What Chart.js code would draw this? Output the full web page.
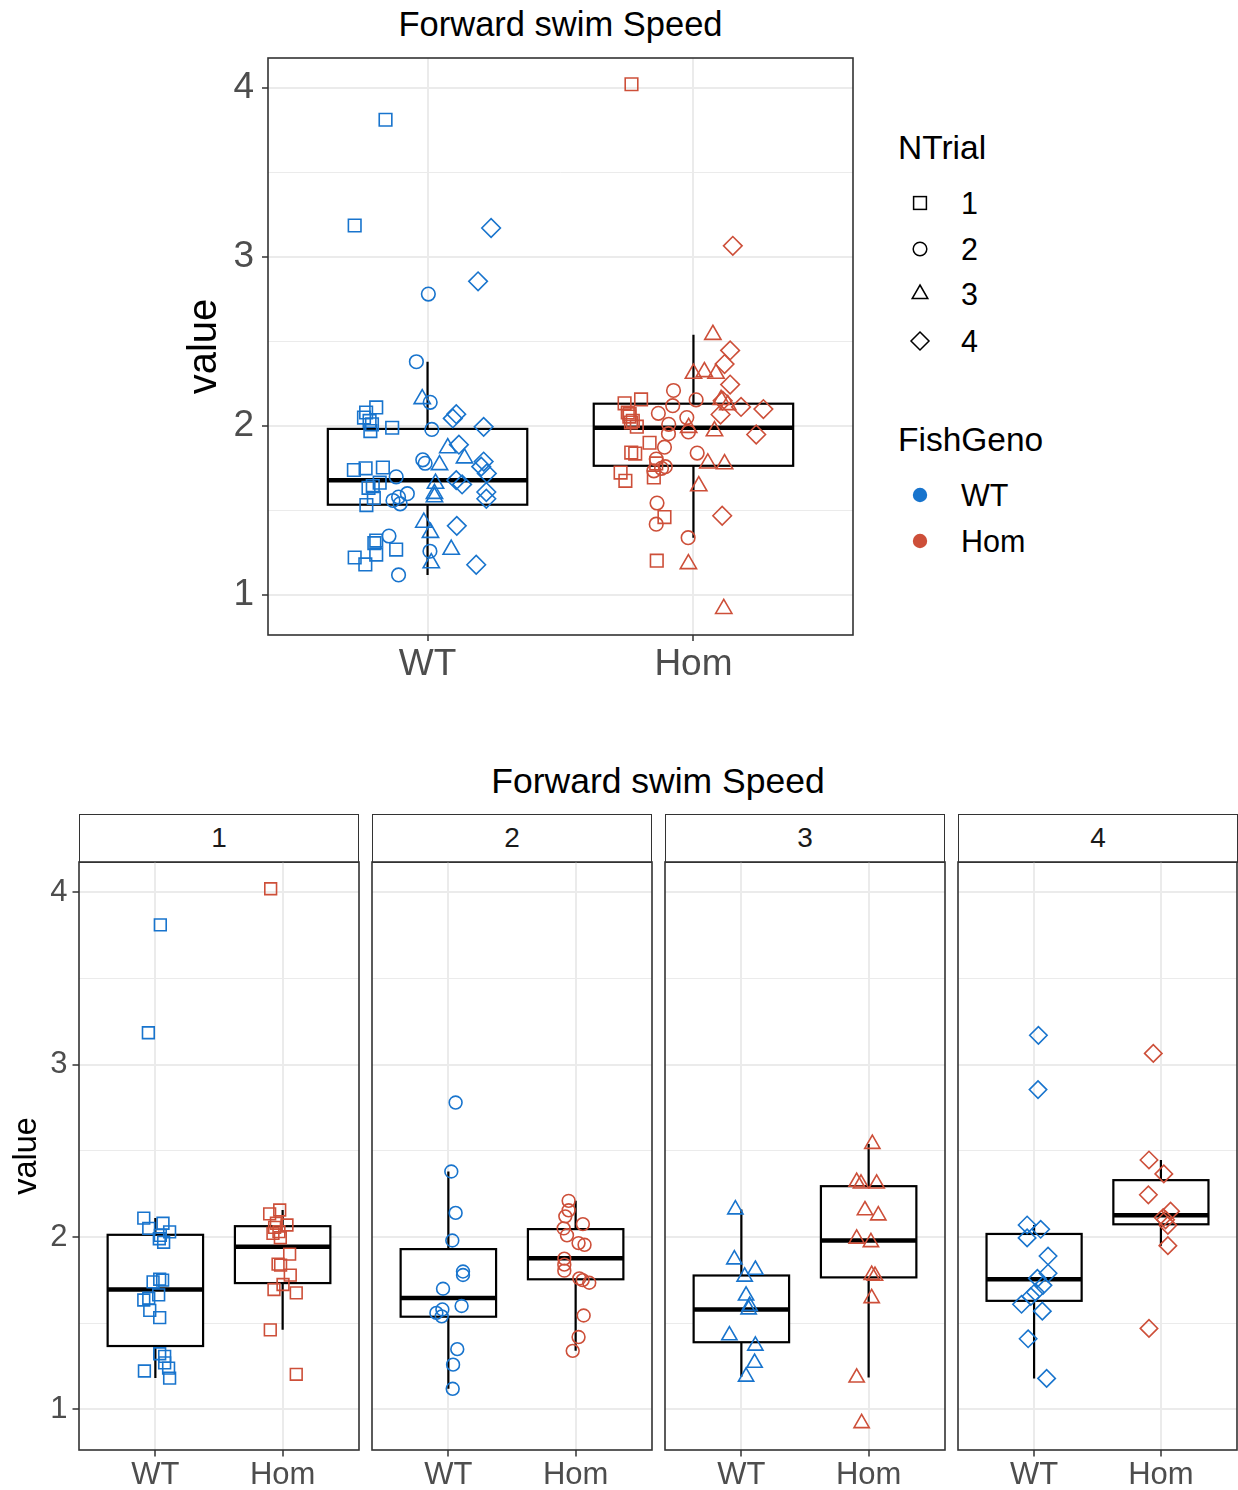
<!DOCTYPE html>
<html>
<head>
<meta charset="utf-8">
<script src="https://cdn.jsdelivr.net/npm/chart.js@4.4.1/dist/chart.umd.min.js"></script>
<style>
  body { margin: 0; background: #fff; width: 1238px; height: 1490px; position: relative; overflow: hidden;
         font-family: "Liberation Sans", Arial, Helvetica, sans-serif; }
  canvas, .abs { position: absolute; }
  .ttl { text-align: center; line-height: 40px; color: #000; white-space: nowrap; }
  .strip { box-sizing: border-box; border: 1.5px solid #333; background: #fff; text-align: center;
           font-size: 28px; line-height: 45px; color: #1a1a1a; }
  .lgTitle { font-size: 33.5px; line-height: 40px; color: #000; }
  .lgLab { font-size: 30.5px; line-height: 36px; color: #000; }
</style>
</head>
<body>

<div class="abs ttl" style="left:268px; top:4px; width:585px; font-size:34.5px;">Forward swim Speed</div>
<div class="abs ttl" style="left:79px; top:761px; width:1158px; font-size:35.5px;">Forward swim Speed</div>

<div class="abs strip" style="left:79px;  top:814px; width:280px; height:49px;">1</div>
<div class="abs strip" style="left:372px; top:814px; width:280px; height:49px;">2</div>
<div class="abs strip" style="left:665px; top:814px; width:280px; height:49px;">3</div>
<div class="abs strip" style="left:958px; top:814px; width:280px; height:49px;">4</div>

<!-- legend -->
<div class="abs lgTitle" style="left:898px; top:128px;">NTrial</div>
<svg class="abs" style="left:908px; top:191px;" width="24" height="24"><rect x="5.6" y="5.6" width="12.8" height="12.8" fill="none" stroke="#000" stroke-width="1.5"/></svg>
<svg class="abs" style="left:908px; top:237px;" width="24" height="24"><circle cx="12" cy="12" r="6.8" fill="none" stroke="#000" stroke-width="1.5"/></svg>
<svg class="abs" style="left:908px; top:282px;" width="24" height="24"><polygon points="12,3 19.8,16.5 4.2,16.5" fill="none" stroke="#000" stroke-width="1.5"/></svg>
<svg class="abs" style="left:908px; top:329px;" width="24" height="24"><polygon points="12,3 21,12 12,21 3,12" fill="none" stroke="#000" stroke-width="1.5"/></svg>
<div class="abs lgLab" style="left:961px; top:185px;">1</div>
<div class="abs lgLab" style="left:961px; top:231px;">2</div>
<div class="abs lgLab" style="left:961px; top:276px;">3</div>
<div class="abs lgLab" style="left:961px; top:323px;">4</div>

<div class="abs lgTitle" style="left:898px; top:420px;">FishGeno</div>
<svg class="abs" style="left:908px; top:483px;" width="24" height="24"><circle cx="12" cy="12" r="7.2" fill="#1874CD"/></svg>
<svg class="abs" style="left:908px; top:529px;" width="24" height="24"><circle cx="12" cy="12" r="7.2" fill="#CD4F39"/></svg>
<div class="abs lgLab" style="left:961px; top:477px;">WT</div>
<div class="abs lgLab" style="left:961px; top:523px;">Hom</div>

<canvas id="allChart" width="880" height="700" style="left:0; top:0;"></canvas>
<canvas id="facet1" width="366" height="630" style="left:0; top:860px;"></canvas>
<canvas id="facet2" width="294" height="630" style="left:365px; top:860px;"></canvas>
<canvas id="facet3" width="294" height="630" style="left:658px; top:860px;"></canvas>
<canvas id="facet4" width="293" height="630" style="left:951px; top:860px;"></canvas>

<script>
const GENO = ["WT", "Hom"];
const TRIALS = ["1", "2", "3", "4"];
const GENO_COLORS = ["#1874CD", "#CD4F39"];
const TRIAL_SHAPES = ["rect", "circle", "triangle", "rectRot"];
const FONT = '"Liberation Sans", Arial, Helvetica, sans-serif';

/* ---- values ---- */
const wt1 = [3.81, 3.185, 2.11, 2.08, 2.05, 2.03, 2.01, 1.99, 1.97, 1.755, 1.75, 1.74, 1.665, 1.645, 1.635, 1.575, 1.533, 1.323, 1.308, 1.27, 1.24, 1.223, 1.182];
const wt2 = [2.78, 2.38, 2.14, 1.98, 1.80, 1.78, 1.70, 1.60, 1.58, 1.56, 1.54, 1.35, 1.26, 1.12];
const wt3 = [2.16, 1.87, 1.81, 1.77, 1.66, 1.60, 1.58, 1.43, 1.37, 1.27, 1.19];
const wt4 = [3.17, 2.855, 2.07, 2.045, 1.995, 1.89, 1.79, 1.76, 1.72, 1.68, 1.655, 1.61, 1.57, 1.41, 1.18];
const hom1 = [4.02, 2.157, 2.134, 2.08, 2.07, 2.056, 2.031, 2.021, 1.996, 1.901, 1.843, 1.837, 1.779, 1.725, 1.696, 1.676, 1.462, 1.204];
const hom2 = [2.21, 2.155, 2.12, 2.075, 2.05, 2.01, 1.965, 1.955, 1.875, 1.84, 1.805, 1.76, 1.75, 1.735, 1.545, 1.42, 1.34];
const hom3 = [2.54, 2.32, 2.31, 2.31, 2.155, 2.125, 1.99, 1.97, 1.78, 1.775, 1.645, 1.185, 0.92];
const hom4 = [3.065, 2.447, 2.366, 2.245, 2.15, 2.113, 2.10, 2.068, 1.95, 1.47];

/* ---- jitter offsets in the faceted plot (x units) ---- */
const wt1Jit = [0.039, -0.055, -0.091, 0.060, -0.052, 0.112, 0.039, 0.031, 0.065, 0.034, 0.057, -0.018, 0.026, -0.052, -0.091, -0.044, 0.034, 0.034, 0.073, 0.073, 0.104, -0.086, 0.112];
const wt2Jit = [0.057, 0.023, 0.057, 0.031, 0.115, 0.115, -0.042, 0.104, -0.047, -0.094, -0.052, 0.070, 0.037, 0.034];
const wt3Jit = [-0.047, -0.055, 0.110, 0.026, 0.037, 0.065, 0.057, -0.094, 0.110, 0.104, 0.037];
const wt4Jit = [0.034, 0.031, -0.055, 0.052, -0.055, 0.110, 0.110, 0.026, 0.070, 0.010, -0.026, -0.099, 0.065, -0.047, 0.099];
const hom1Jit = [-0.094, -0.023, -0.102, -0.049, 0.034, -0.063, -0.029, -0.076, -0.018, 0.055, -0.036, -0.016, 0.060, 0.003, -0.068, 0.107, -0.097, 0.107];
const hom2Jit = [-0.055, -0.055, -0.081, 0.057, -0.094, -0.068, 0.023, 0.070, -0.089, -0.089, -0.089, 0.029, 0.055, 0.107, 0.063, 0.023, -0.023];
const hom3Jit = [0.029, -0.094, -0.060, 0.063, -0.029, 0.076, -0.094, 0.018, 0.024, 0.050, 0.024, -0.094, -0.055];
const hom4Jit = [-0.060, -0.094, 0.023, -0.099, 0.076, 0.018, 0.037, 0.055, 0.055, -0.094];

/* ---- jitter+dodge offsets in the combined plot (x units) ---- */
const wt1JitAll = [-0.158, -0.274, -0.193, -0.231, -0.239, -0.218, -0.209, -0.133, -0.215, -0.168, -0.233, -0.277, -0.180, -0.206, -0.222, -0.202, -0.230, -0.193, -0.200, -0.118, -0.193, -0.274, -0.234];
const wt2JitAll = [0.003, -0.042, 0.010, 0.016, -0.018, -0.009, -0.118, -0.076, -0.109, -0.130, -0.103, -0.145, 0.009, -0.109];
const wt3JitAll = [-0.020, 0.076, 0.139, 0.045, 0.030, 0.026, 0.026, -0.014, 0.011, 0.089, 0.014];
const wt4JitAll = [0.239, 0.190, 0.108, 0.095, 0.211, 0.118, 0.211, 0.202, 0.223, 0.108, 0.130, 0.221, 0.221, 0.110, 0.183];
const hom1JitAll = [-0.233, -0.197, -0.259, -0.247, -0.240, -0.241, -0.228, -0.235, -0.213, -0.165, -0.234, -0.219, -0.140, -0.274, -0.149, -0.256, -0.109, -0.138];
const hom2JitAll = [-0.075, 0.010, -0.078, -0.132, -0.025, -0.093, -0.019, -0.094, -0.109, 0.014, -0.140, -0.106, -0.120, -0.149, -0.137, -0.140, -0.020];
const hom3JitAll = [0.073, 0.041, 0.000, 0.085, 0.104, 0.129, -0.018, 0.079, 0.054, 0.117, 0.020, -0.019, 0.114];
const hom4JitAll = [0.148, 0.138, 0.117, 0.138, 0.110, 0.179, 0.263, 0.102, 0.236, 0.108];

/* ---- box stats [WT, Hom]: whisker low, Q1, median, Q3, whisker high ---- */
const allLow  = [1.12, 1.34];
const allQ1   = [1.535, 1.765];
const allMed  = [1.68, 1.99];
const allQ3   = [1.983, 2.132];
const allHigh = [2.38, 2.54];

// one row per trial, [WT, Hom] in each
const facetLow  = [[1.182, 1.462], [1.12, 1.34], [1.19, 1.185], [1.18, 1.95]];
const facetQ1   = [[1.368, 1.733], [1.538, 1.755], [1.390, 1.766], [1.630, 2.074]];
const facetMed  = [[1.696, 1.943], [1.646, 1.877], [1.580, 1.980], [1.755, 2.127]];
const facetQ3   = [[2.013, 2.063], [1.930, 2.046], [1.777, 2.295], [2.018, 2.330]];
const facetHigh = [[2.11, 2.157], [2.38, 2.21], [2.16, 2.54], [2.07, 2.447]];

const Y_GRID = [1, 1.5, 2, 2.5, 3, 3.5, 4];

const VALUES = [[wt1, wt2, wt3, wt4], [hom1, hom2, hom3, hom4]];
const JIT_FACET = [[wt1Jit, wt2Jit, wt3Jit, wt4Jit], [hom1Jit, hom2Jit, hom3Jit, hom4Jit]];
const JIT_ALL = [[wt1JitAll, wt2JitAll, wt3JitAll, wt4JitAll], [hom1JitAll, hom2JitAll, hom3JitAll, hom4JitAll]];

// ggplot-style 5% expansion of the data range
const allVals = VALUES.flat(2);
const vMin = Math.min(...allVals), vMax = Math.max(...allVals);
const Y_MIN = vMin - 0.05 * (vMax - vMin);
const Y_MAX = vMax + 0.05 * (vMax - vMin);

/* ---------- helpers ---------- */

function pointSets(jits, trialIdx, radii) {
  const sets = [];
  GENO.forEach((g, gi) => {
    TRIALS.forEach((t, ti) => {
      if (trialIdx !== null && ti !== trialIdx) return;
      const vals = VALUES[gi][ti], jit = jits[gi][ti];
      sets.push({
        label: `${g} ${t}`,
        data: vals.map((v, k) => ({ x: gi + 1 + jit[k], y: v })),
        pointStyle: TRIAL_SHAPES[ti],
        pointRadius: radii[ti],
        pointBorderWidth: 1.6,
        borderColor: GENO_COLORS[gi],
        backgroundColor: "rgba(0,0,0,0)",
      });
    });
  });
  return sets;
}

// boxes drawn under the points, through the chart's own scales
function boxLayer(low, q1, med, q3, high) {
  return {
    id: "ggBox",
    beforeDatasetsDraw(chart) {
      const { ctx, scales: { x, y } } = chart;
      ctx.save();
      ctx.strokeStyle = "#000";
      GENO.forEach((g, i) => {
        const c = i + 1;
        const cx = x.getPixelForValue(c);
        const l = x.getPixelForValue(c - 0.375), r = x.getPixelForValue(c + 0.375);
        const yLo = y.getPixelForValue(low[i]), yQ1 = y.getPixelForValue(q1[i]);
        const yMed = y.getPixelForValue(med[i]), yQ3 = y.getPixelForValue(q3[i]);
        const yHi = y.getPixelForValue(high[i]);
        ctx.lineWidth = 2.2;
        ctx.beginPath();
        ctx.moveTo(cx, yLo); ctx.lineTo(cx, yQ1);
        ctx.moveTo(cx, yQ3); ctx.lineTo(cx, yHi);
        ctx.stroke();
        ctx.fillStyle = "#fff";
        ctx.fillRect(l, yQ3, r - l, yQ1 - yQ3);
        ctx.strokeRect(l, yQ3, r - l, yQ1 - yQ3);
        ctx.lineWidth = 4.5;
        ctx.beginPath();
        ctx.moveTo(l, yMed); ctx.lineTo(r, yMed);
        ctx.stroke();
      });
      ctx.restore();
    },
  };
}

const panelBorder = {
  id: "panelBorder",
  afterDatasetsDraw(chart) {
    const { ctx, chartArea: a } = chart;
    ctx.save();
    ctx.strokeStyle = "#333333";
    ctx.lineWidth = 1.6;
    ctx.strokeRect(a.left, a.top, a.right - a.left, a.bottom - a.top);
    ctx.restore();
  },
};

const isMajor = (c) => c.tick && Number.isInteger(c.tick.value);

function ggChart(canvas, cfg) {
  return new Chart(canvas, {
    type: "scatter",
    data: { datasets: cfg.datasets },
    options: {
      responsive: false,
      animation: false,
      events: [],
      layout: { padding: cfg.padding, autoPadding: false },
      plugins: { legend: { display: false }, tooltip: { enabled: false } },
      scales: {
        x: {
          type: "linear", min: 0.4, max: 2.6,
          afterBuildTicks: (ax) => { ax.ticks = GENO.map((g, i) => ({ value: i + 1 })); },
          afterFit: (ax) => { ax.height = cfg.xHeight; ax.paddingLeft = 0; ax.paddingRight = 0; },
          border: { display: false },
          grid: { color: "#EBEBEB", lineWidth: 2, drawTicks: true, tickLength: cfg.tickLen, tickColor: "#333333", tickWidth: 1.5 },
          ticks: {
            autoSkip: false, maxRotation: 0, padding: cfg.xPad, color: "#4D4D4D",
            font: { family: FONT, size: cfg.tickSize },
            callback: (v) => GENO[v - 1],
          },
        },
        y: {
          type: "linear", min: Y_MIN, max: Y_MAX,
          afterBuildTicks: (ax) => { ax.ticks = Y_GRID.map((v) => ({ value: v })); },
          afterFit: (ax) => { ax.width = cfg.yWidth; ax.paddingTop = 0; ax.paddingBottom = 0; },
          border: { display: false },
          grid: {
            color: "#EBEBEB",
            lineWidth: (c) => (isMajor(c) ? 2 : 1),
            drawTicks: cfg.showY, tickLength: cfg.tickLen, tickWidth: 1.5,
            tickColor: (c) => (isMajor(c) ? "#333333" : "rgba(0,0,0,0)"),
          },
          ticks: {
            display: cfg.showY, autoSkip: false, padding: cfg.yPad, color: "#4D4D4D",
            font: { family: FONT, size: cfg.tickSize },
            callback: (v) => (Number.isInteger(v) ? String(v) : ""),
          },
          title: {
            display: cfg.showY, text: "value", color: "#000",
            font: { family: FONT, size: cfg.titleSize },
            padding: { top: cfg.titlePad, bottom: 0 },
          },
        },
      },
    },
    plugins: [cfg.boxes, panelBorder],
  });
}

/* ---------- combined plot ---------- */

ggChart(document.getElementById("allChart"), {
  datasets: pointSets(JIT_ALL, null, [8.9, 6.8, 9.4, 9.3]),
  boxes: boxLayer(allLow, allQ1, allMed, allQ3, allHigh),
  padding: { top: 58, right: 27, left: 0, bottom: 0 },
  xHeight: 65, yWidth: 268, showY: true,
  tickLen: 6, xPad: 2, yPad: 8, tickSize: 37,
  titleSize: 40, titlePad: 181,
});

/* ---------- faceted by trial ---------- */

TRIALS.forEach((t, ti) => {
  const first = ti === 0;
  ggChart(document.getElementById(`facet${ti + 1}`), {
    datasets: pointSets(JIT_FACET, ti, [8.3, 6.4, 8.8, 8.7]),
    boxes: boxLayer(
      facetLow[ti], facetQ1[ti], facetMed[ti], facetQ3[ti], facetHigh[ti]
    ),
    padding: { top: 2, right: 7, left: first ? 0 : 7, bottom: 0 },
    xHeight: 40, yWidth: first ? 79 : 0, showY: first,
    tickLen: 6.5, xPad: 0, yPad: 5, tickSize: 31,
    titleSize: 32.5, titlePad: 8,
  });
});
</script>
</body>
</html>
